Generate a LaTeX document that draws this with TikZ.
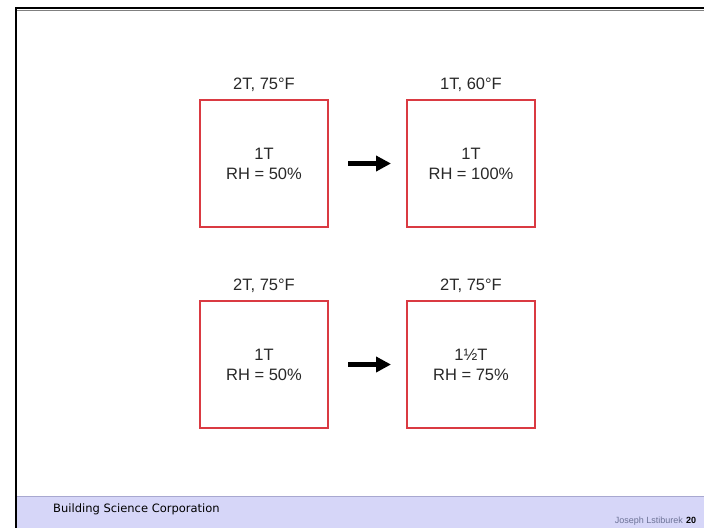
\documentclass[tikz,border=0pt]{standalone}
\usepackage{fontspec}
\setmainfont{Liberation Sans}
\newfontfamily\barfont{DejaVu Sans}
\usetikzlibrary{arrows.meta}

\definecolor{boxred}{RGB}{218,58,66}
\definecolor{barfill}{RGB}{214,214,248}
\definecolor{barline}{RGB}{168,168,208}
\definecolor{namegray}{RGB}{108,114,150}
\definecolor{inkgray}{RGB}{40,40,40}

\tikzset{
  tank/.style={draw=boxred, line width=2pt, minimum width=128pt, minimum height=127pt, align=center, inner sep=0pt, text=inkgray, font=\fontsize{16.5}{20}\selectfont},
  toplabel/.style={inner sep=0pt, text=inkgray, font=\fontsize{16.5}{20}\selectfont},
  fatarrow/.style={line width=5pt, -{Triangle[length=15pt,width=15pt]}},
}

\begin{document}
\begin{tikzpicture}[x=1pt,y=1pt,yscale=-1,xscale=1]
\useasboundingbox (0,0) rectangle (704,528);

%Slide frame
\fill[barfill] (16,496) rectangle (704,528);
\draw[barline, line width=1pt] (16,496.5) -- (704,496.5);
\draw[gray, line width=1pt] (16,10) -- (704,10);
\draw[black, line width=2.5pt] (15,8) -- (704,8);
\draw[black, line width=2pt] (15.5,7) -- (15.5,528);

%Boxes, upper row
\node[tank] (b1) at (264,163.5) {1T\\RH = 50\%};
\node[tank] (b2) at (471,163.5) {1T\\RH = 100\%};
%Boxes, lower row
\node[tank] (b3) at (264,364.5) {1T\\RH = 50\%};
\node[tank] (b4) at (471,364.5) {1½T\\RH = 75\%};

% Text Node
\node[toplabel] (t1) at (264,85) {2T, 75°F};
% Text Node
\node[toplabel] (t2) at (471,85) {1T, 60°F};
% Text Node
\node[toplabel] (t3) at (264,286) {2T, 75°F};
% Text Node
\node[toplabel] (t4) at (471,286) {2T, 75°F};

%Arrows
\draw[fatarrow, shorten <=19pt, shorten >=15pt] (b1) -- (b2);
\draw[fatarrow, shorten <=19pt, shorten >=15pt] (b3) -- (b4);

%Footer
\node[anchor=base west, inner sep=0pt, font=\barfont\fontsize{11.5}{13}\selectfont] (corp) at (53,512) {Building Science Corporation};
\node[anchor=base east, inner sep=0pt, text=namegray, font=\fontsize{9}{11}\selectfont] (author) at (683,523) {Joseph Lstiburek};
\node[anchor=base west, inner sep=0pt, font=\bfseries\fontsize{9}{11}\selectfont] (page) at (686,523) {20};

\end{tikzpicture}
\end{document}
